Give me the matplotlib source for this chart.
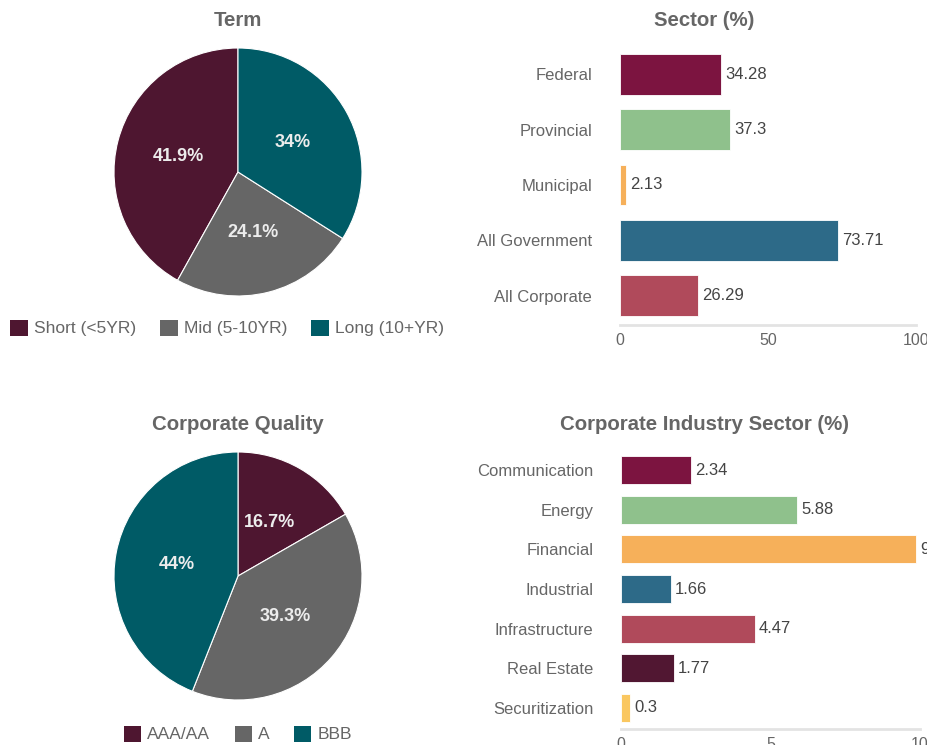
import matplotlib
matplotlib.use("Agg")
import matplotlib.pyplot as plt
from matplotlib.patches import Patch

plt.rcParams['font.family'] = ['Liberation Sans', 'DejaVu Sans']

# data
term_labels = ['Short (<5YR)', 'Mid (5-10YR)', 'Long (10+YR)']
term_values = [41.9, 24.1, 34]

quality_labels = ['AAA/AA', 'A', 'BBB']
quality_values = [16.7, 39.3, 44]

sector_names = ['Federal', 'Provincial', 'Municipal', 'All Government', 'All Corporate']
sector_values = [34.28, 37.3, 2.13, 73.71, 26.29]

industry_names = ['Communication', 'Energy', 'Financial', 'Industrial',
                  'Infrastructure', 'Real Estate', 'Securitization']
industry_values = [2.34, 5.88, 9.87, 1.66, 4.47, 1.77, 0.3]

pie_colors = ['#4e1630', '#666666', '#005b66']
sector_colors = ['#7c1440', '#8fc18c', '#f6b05a', '#2d6a88', '#b04a5b']
industry_colors = ['#7c1440', '#8fc18c', '#f6b05a', '#2d6a88', '#b04a5b',
                   '#511732', '#fac760']

W, H = 927, 745
fig = plt.figure(figsize=(W / 100, H / 100), dpi=100)
fig.patch.set_facecolor('white')


def px_axes(left, top, right, bottom):
    return fig.add_axes([left / W, 1 - bottom / H, (right - left) / W, (bottom - top) / H])


def title(x, y, s):
    fig.text(x / W, 1 - y / H, s, ha='center', va='center', fontsize=14.7,
             fontweight='bold', color='#666666')


def pie_panel(box, values, labels, counterclock, legend_x, legend_y):
    ax = px_axes(*box)
    ax.pie(values, colors=pie_colors, startangle=90,
           counterclock=counterclock, autopct=lambda p: f'{p:.3g}%',
           pctdistance=0.5, radius=1,
           wedgeprops=dict(edgecolor='white', linewidth=0.8),
           textprops=dict(color='#ececec', fontsize=13, fontweight='bold'))
    ax.set_xlim(-1, 1)
    ax.set_ylim(-1, 1)
    ax.set_aspect('equal')
    handles = [Patch(facecolor=c, edgecolor='none') for c in pie_colors]
    fig.legend(handles, labels, loc='center',
               bbox_to_anchor=(legend_x / W, 1 - legend_y / H),
               ncol=3, frameon=False, fontsize=12.5, labelcolor='#666666',
               handlelength=1.0, handleheight=1.05, handletextpad=0.35,
               columnspacing=1.4, borderaxespad=0, borderpad=0)


def bar_panel(box, names, values, colors, xmax, xticks, height):
    ax = px_axes(*box)
    y = range(len(names))
    ax.barh(y, values, color=colors, height=height, edgecolor='white', linewidth=0.6)
    ax.set_ylim(len(names) - 0.47, -0.53)
    ax.set_xlim(0, xmax)
    ax.set_yticks(list(y))
    ax.set_yticklabels(names, fontsize=12, color='#666666')
    ax.set_xticks(xticks)
    ax.set_xticklabels([str(t) for t in xticks], fontsize=11.5, color='#666666')
    ax.tick_params(axis='y', length=0, pad=20)
    ax.tick_params(axis='x', length=0, pad=6)
    for s in ['top', 'right', 'left']:
        ax.spines[s].set_visible(False)
    ax.spines['bottom'].set_color('#e3e3e3')
    ax.spines['bottom'].set_linewidth(2)
    for i, v in enumerate(values):
        ax.annotate(f'{v:g}', (v, i), xytext=(3, 0), textcoords='offset points',
                    va='center', ha='left', fontsize=12, color='#444444',
                    annotation_clip=False)
    return ax


# Term
title(238, 20, 'Term')
pie_panel((114, 48, 362, 296), term_values, term_labels, True, 227, 328)

# Corporate Quality
title(238, 424, 'Corporate Quality')
pie_panel((114, 452, 362, 700), quality_values, quality_labels, False, 238, 734)

# Sector
title(704, 20, 'Sector (%)')
bar_panel((620, 45, 916, 325), sector_names, sector_values, sector_colors,
          100, [0, 50, 100], 0.73)

# Corporate Industry Sector
title(705, 424, 'Corporate Industry Sector (%)')
bar_panel((621, 449, 920, 729), industry_names, industry_values, industry_colors,
          10, [0, 5, 10], 0.7)

fig.savefig('out.png', dpi=100)
